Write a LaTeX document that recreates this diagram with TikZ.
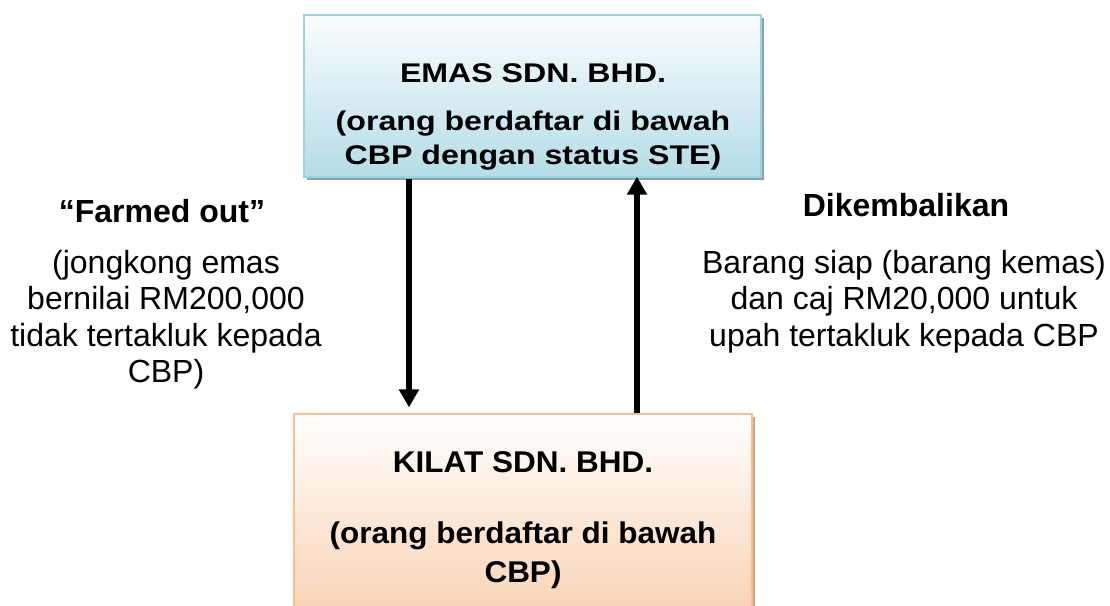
\documentclass[tikz,border=0pt]{standalone}
\usepackage{fontspec}
\setmainfont{Liberation Sans}
\usetikzlibrary{arrows.meta,shadows}
\definecolor{topfillA}{HTML}{FBFEFE}
\definecolor{topfillB}{HTML}{B4DCE7}
\definecolor{topborder}{HTML}{9FD2E0}
\definecolor{topshadow}{HTML}{8CA3A9}
\definecolor{botfillA}{HTML}{FFFFFF}
\definecolor{botfillB}{HTML}{F8CFAE}
\definecolor{botborder}{HTML}{FABF8F}
\definecolor{botshadow}{HTML}{D6A57F}
\tikzset{
  companybox/.style={rectangle, inner sep=0pt},
  topbox/.style={companybox, line width=1.6pt, draw=topborder, top color=topfillA, bottom color=topfillB,
     drop shadow={shadow xshift=2.4pt, shadow yshift=-2.4pt, fill=topshadow, opacity=1},
     minimum width=342.75pt, minimum height=121.5pt},
  botbox/.style={companybox, line width=2pt, draw=botborder, top color=botfillA, bottom color=botfillB,
     drop shadow={shadow xshift=2.4pt, shadow yshift=-2.4pt, fill=botshadow, opacity=1},
     minimum width=343.5pt, minimum height=162pt},
  toptext/.style={anchor=base, inner sep=0pt, font=\fontsize{20.25}{23}\selectfont\bfseries},
  bottext/.style={anchor=base, inner sep=0pt, font=\fontsize{22.5}{26}\selectfont\bfseries},
  labhead/.style={anchor=base, inner sep=0pt, font=\fontsize{24}{27}\selectfont\bfseries},
  labtext/.style={anchor=base, inner sep=0pt, font=\fontsize{24}{27}\selectfont},
  flow/.style={line width=5pt, -{Triangle[length=13.5pt,width=14.5pt]}},
}
\begin{document}
\begin{tikzpicture}[x=0.75pt,y=-0.75pt]
\useasboundingbox (0,0) rectangle (1110,606);
\clip (0,0) rectangle (1110,606);
% boxes
\node[topbox] (emas) at (532.5,96) {};
\node[botbox] (kilat) at (523,522) {};
% top box text
\node[toptext] (e1) at (533,83) {\scalebox{1.19}[1]{EMAS SDN. BHD.}};
\node[toptext] (e2) at (533,131) {\scalebox{1.19}[1]{(orang berdaftar di bawah}};
\begin{scope}
\clip (300,140) rectangle (770,170);
\node[toptext] (e3) at (533,165) {\scalebox{1.19}[1]{CBP dengan status STE)}};
\end{scope}
% bottom box text
\node[bottext] (k1) at (523,472) {\scalebox{1.05}[1]{KILAT SDN. BHD.}};
\node[bottext] (k2) at (523,543) {\scalebox{1.05}[1]{(orang berdaftar di bawah}};
\node[bottext] (k3) at (523,582) {\scalebox{1.05}[1]{CBP)}};
% arrows
\coordinate (xl) at (409,0);
\coordinate (xr) at (637,0);
\draw[flow, shorten >=4pt] ([yshift=-1pt]emas.south -| xl) -- (kilat.north -| xl);
\draw[flow, shorten >=-1pt] (kilat.north -| xr) -- (emas.south -| xr);
% left labels
\node[labhead] (l0) at (162,223) {“Farmed out”};
\node[labtext] (l1) at (166,273) {(jongkong emas};
\node[labtext] (l2) at (166,309.5) {bernilai RM200,000};
\node[labtext] (l3) at (166,346) {tidak tertakluk kepada};
\node[labtext] (l4) at (166,382.5) {CBP)};
% right labels
\node[labhead] (r0) at (906,217) {Dikembalikan};
\node[labtext] (r1) at (904,273) {Barang siap (barang kemas)};
\node[labtext] (r2) at (904,309.5) {dan caj RM20,000 untuk};
\node[labtext] (r3) at (904,346) {upah tertakluk kepada CBP};
\end{tikzpicture}
\end{document}
